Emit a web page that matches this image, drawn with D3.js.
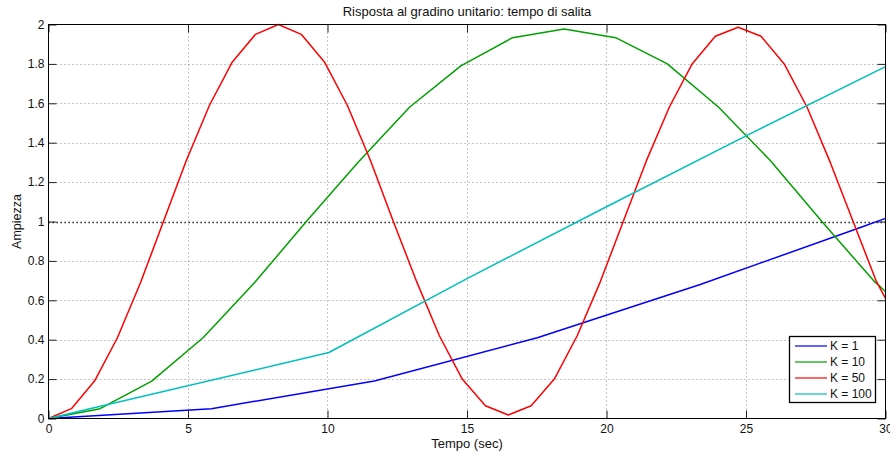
<!DOCTYPE html>
<html>
<head>
<meta charset="utf-8">
<script src="https://cdn.jsdelivr.net/npm/d3@7"></script>
<style>
  html, body { margin: 0; padding: 0; background: #fff; }
  svg { display: block; font-family: "Liberation Sans", Arial, Helvetica, sans-serif; }
</style>
</head>
<body>
<svg id="chart" width="890" height="456"></svg>
<script>
// ---- data ----
const titleText = "Risposta al gradino unitario: tempo di salita";
const xLabel = "Tempo (sec)";
const yLabel = "Ampiezza";
const xTicks = [0, 5, 10, 15, 20, 25, 30];
const yTicks = [0, 0.2, 0.4, 0.6, 0.8, 1, 1.2, 1.4, 1.6, 1.8, 2];
const yTickLabels = ["0", "0.2", "0.4", "0.6", "0.8", "1", "1.2", "1.4", "1.6", "1.8", "2"];
const legendLabels = ["K = 1", "K = 10", "K = 50", "K = 100"];
const seriesColors = ["#0000ff", "#00a000", "#ff0000", "#00bfbf"];

const blueT = [0, 5.84, 11.68, 17.52, 23.36, 29.2, 30];
const blueY = [0, 0.05, 0.19, 0.41, 0.68, 0.975, 1.016];

const greenT = [0, 1.85, 3.7, 5.54, 7.39, 9.24, 11.09, 12.94, 14.78, 16.63, 18.48, 20.33, 22.18, 24.02, 25.87, 27.72, 29.57, 30];
const greenY = [0, 0.05, 0.19, 0.41, 0.69, 1.0, 1.3, 1.58, 1.79, 1.933, 1.977, 1.933, 1.8, 1.58, 1.31, 1.0, 0.7, 0.645];

const redT = [0, 0.82, 1.65, 2.47, 3.3, 4.12, 4.94, 5.77, 6.59, 7.42, 8.24, 9.06, 9.89, 10.71, 11.54, 12.36, 13.18, 14.01, 14.83, 15.66, 16.48, 17.3, 18.13, 18.95, 19.78, 20.6, 21.42, 22.25, 23.07, 23.9, 24.72, 25.54, 26.37, 27.19, 28.02, 28.84, 29.66, 30];
const redY = [0, 0.05, 0.19, 0.41, 0.69, 1.0, 1.31, 1.59, 1.81, 1.95, 2.0, 1.95, 1.81, 1.59, 1.31, 1.0, 0.7, 0.42, 0.2, 0.065, 0.018, 0.065, 0.2, 0.42, 0.695, 1.0, 1.305, 1.58, 1.8, 1.94, 1.986, 1.94, 1.8, 1.58, 1.3, 1.0, 0.7, 0.61];

const cyanT = [0, 1.9, 10.05, 15, 20, 25, 30];
const cyanY = [0, 0.063, 0.335, 0.71, 1.075, 1.435, 1.786];

const refLineY = 1;

// ---- layout ----
const svg = d3.select("#chart");
const L = 48.5, R = 885.5, T = 24.5, B = 418.5;
const x = d3.scaleLinear().domain([0, 30]).range([L, R]);
const y = d3.scaleLinear().domain([0, 2]).range([B, T]);

svg.append("rect").attr("x", 0).attr("y", 0).attr("width", 890).attr("height", 456).attr("fill", "#fff");

// grid
const grid = svg.append("g");
grid.selectAll("line.gx").data(xTicks.slice(1, -1)).enter().append("line")
  .attr("x1", d => Math.round(x(d)) + 0.5).attr("x2", d => Math.round(x(d)) + 0.5)
  .attr("y1", T).attr("y2", B)
  .attr("stroke", "#8a8a8a").attr("stroke-width", 1).attr("stroke-dasharray", "1,3");
grid.selectAll("line.gy").data(yTicks.slice(1, -1).filter(d => d !== refLineY)).enter().append("line")
  .attr("y1", d => Math.round(y(d)) + 0.5).attr("y2", d => Math.round(y(d)) + 0.5)
  .attr("x1", L).attr("x2", R)
  .attr("stroke", "#8a8a8a").attr("stroke-width", 1).attr("stroke-dasharray", "1,3");

// reference line at y = 1 (black dotted)
svg.append("line")
  .attr("x1", L).attr("x2", R)
  .attr("y1", Math.round(y(refLineY)) + 0.5).attr("y2", Math.round(y(refLineY)) + 0.5)
  .attr("stroke", "#000").attr("stroke-width", 1.3).attr("stroke-dasharray", "1.3,2.7");

// axes with inward ticks (d3 axes)
const tickLen = 8;
const fmtY = d => yTickLabels[yTicks.indexOf(d)];
const axB = svg.append("g").attr("transform", `translate(0,${B})`)
  .call(d3.axisBottom(x).tickValues(xTicks).tickSizeInner(-tickLen).tickSizeOuter(0).tickPadding(6));
const axT = svg.append("g").attr("transform", `translate(0,${T})`)
  .call(d3.axisTop(x).tickValues(xTicks).tickSizeInner(-tickLen).tickSizeOuter(0).tickFormat(""));
const axL = svg.append("g").attr("transform", `translate(${L},0)`)
  .call(d3.axisLeft(y).tickValues(yTicks).tickFormat(fmtY).tickSizeInner(-tickLen).tickSizeOuter(0).tickPadding(4));
const axR = svg.append("g").attr("transform", `translate(${R},0)`)
  .call(d3.axisRight(y).tickValues(yTicks).tickSizeInner(-tickLen).tickSizeOuter(0).tickFormat(""));
[axB, axT, axL, axR].forEach(a => {
  a.select(".domain").remove();
  a.selectAll(".tick line").attr("stroke", "#222").attr("stroke-width", 1);
  a.selectAll(".tick text").attr("fill", "#111").style("font-size", "12px")
    .style("font-family", '"Liberation Sans", Arial, sans-serif');
});
axB.selectAll(".tick text").attr("dy", "0.71em");

// curves
const lineGen = d3.line().x(d => x(d[0])).y(d => y(d[1]));
const series = [
  { t: blueT, v: blueY },
  { t: greenT, v: greenY },
  { t: redT, v: redY },
  { t: cyanT, v: cyanY }
];
const curves = svg.append("g");
series.forEach((s, i) => {
  const pts = s.t.map((t, j) => [t, s.v[j]]);
  curves.append("path").datum(pts).attr("d", lineGen)
    .attr("fill", "none").attr("stroke", seriesColors[i]).attr("stroke-width", 1.5)
    .attr("stroke-linejoin", "round");
});

// frame
svg.append("rect").attr("x", L).attr("y", T).attr("width", R - L).attr("height", B - T)
  .attr("fill", "none").attr("stroke", "#000").attr("stroke-width", 1);

// title & labels
svg.append("text").attr("x", (L + R) / 2).attr("y", 16).attr("text-anchor", "middle")
  .style("font-size", "13px").attr("fill", "#111").text(titleText);
svg.append("text").attr("x", (L + R) / 2).attr("y", 448).attr("text-anchor", "middle")
  .style("font-size", "13px").attr("fill", "#111").text(xLabel);
svg.append("text").attr("transform", `translate(21,${(T + B) / 2}) rotate(-90)`).attr("text-anchor", "middle")
  .style("font-size", "12.5px").attr("fill", "#111").text(yLabel);

// legend
const lg = svg.append("g");
lg.append("rect").attr("x", 789.5).attr("y", 336.5).attr("width", 86).attr("height", 66)
  .attr("fill", "#fff").attr("stroke", "#000").attr("stroke-width", 1.3);
legendLabels.forEach((lab, i) => {
  const cy = 345.5 + i * 16.2;
  lg.append("line").attr("x1", 795).attr("x2", 827).attr("y1", Math.round(cy)).attr("y2", Math.round(cy))
    .attr("stroke", seriesColors[i]).attr("stroke-width", 1.2);
  lg.append("text").attr("x", 830).attr("y", cy + 4.3).style("font-size", "12px")
    .attr("fill", "#111").text(lab);
});
</script>
</body>
</html>
